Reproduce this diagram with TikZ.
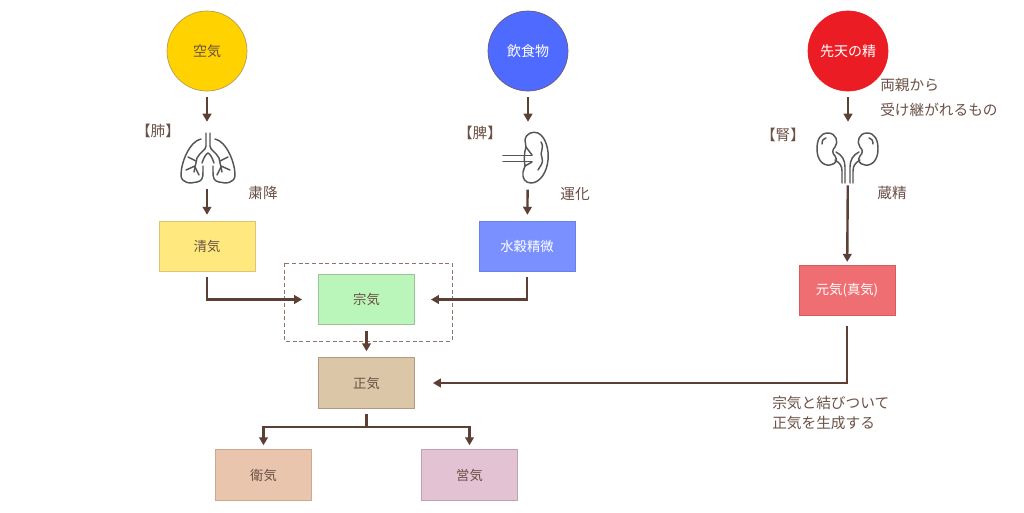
\documentclass[tikz,border=0pt]{standalone}
\usepackage{fontspec}
\newfontfamily\jp{Noto Sans CJK JP}
\usetikzlibrary{arrows.meta}
\definecolor{arrc}{HTML}{5C4036}
\definecolor{txtc}{HTML}{6B5146}
\definecolor{icon}{HTML}{555555}
\definecolor{ylw}{HTML}{FFD200}
\definecolor{ylwb}{HTML}{B89A50}
\definecolor{blu}{HTML}{4F6BFF}
\definecolor{blub}{HTML}{6A5A70}
\definecolor{red1}{HTML}{EC1C24}
\definecolor{redb}{HTML}{B0303A}
\definecolor{seif}{HTML}{FFE97F}
\definecolor{seib}{HTML}{E0C470}
\definecolor{suif}{HTML}{7A90FF}
\definecolor{suib}{HTML}{6680EE}
\definecolor{sof}{HTML}{BAF5BA}
\definecolor{sob}{HTML}{9BC49B}
\definecolor{shof}{HTML}{DCC6A8}
\definecolor{shob}{HTML}{B39A84}
\definecolor{eif}{HTML}{E9C5AD}
\definecolor{eib}{HTML}{CFA88F}
\definecolor{yof}{HTML}{E3C3D3}
\definecolor{yob}{HTML}{C2A0B2}
\definecolor{genf}{HTML}{EE6E72}
\definecolor{genb}{HTML}{D65A60}
\definecolor{dashc}{HTML}{8C7468}
\tikzset{
  circ/.style={circle, minimum size=60pt, inner sep=0pt, line width=0.5pt, font=\jp\fontsize{10.5}{12}\selectfont},
  box/.style={rectangle, minimum width=72pt, minimum height=38pt, inner sep=0pt, line width=0.6pt, font=\jp\fontsize{10}{12}\selectfont},
  iconbox/.style={rectangle, minimum width=42pt, minimum height=37.5pt, inner sep=0pt},
  lbl/.style={inner sep=0pt, text=txtc, font=\jp\fontsize{11}{13}\selectfont},
  arr/.style={draw=arrc, line width=1.8pt, -{Triangle[width=6.5pt,length=6pt]}},
  conn/.style={draw=arrc, line width=1.8pt},
  ic/.style={draw=icon, line width=1.1pt, line cap=round, line join=round},
  frame/.style={draw=dashc, line width=0.7pt, dash pattern=on 3pt off 2pt},
}
\begin{document}
\begin{tikzpicture}[x=0.75pt,y=-0.75pt]
\useasboundingbox[fill=white] (0,0) rectangle (1024,512);

% circles
\node[circ, fill=ylw, draw=ylwb, text=txtc] (kuki) at (207,51) {空気};
\node[circ, fill=blu, draw=blub, text=white] (inshoku) at (528,51) {飲食物};
\node[circ, fill=red1, draw=red1, text=white] (sentan) at (848,51) {先天の精};

% icon placeholders
\node[iconbox] (lung) at (207,158) {};
\node[iconbox] (spleen) at (528,157) {};
\node[iconbox] (kidney) at (848,158) {};

% boxes
\node[box, fill=seif, draw=seib, text=txtc] (seiki) at (207,246.5) {清気};
\node[box, fill=suif, draw=suib, text=white] (suikoku) at (527,246.5) {水穀精微};
\node[box, fill=sof, draw=sob, text=txtc] (soki) at (366.5,299.5) {宗気};
\node[box, fill=shof, draw=shob, text=txtc] (shoki) at (366.5,383) {正気};
\node[box, fill=eif, draw=eib, text=txtc] (eki) at (263.5,475) {衛気};
\node[box, fill=yof, draw=yob, text=txtc] (eiki) at (469.5,475) {営気};
\node[box, fill=genf, draw=genb, text=white] (genki) at (847,290.5) {元気(真気)};

% dashed frame
\draw[frame] (284,263) rectangle (452,341);

% labels
\node[lbl] (hai) at (158,131) {【肺】};
\node[lbl] (hi) at (480,133) {【脾】};
\node[lbl] (jin) at (783,135) {【腎】};
\node[lbl] (shuku) at (263,193) {粛降};
\node[lbl] (unka) at (575,194) {運化};
\node[lbl] (zosei) at (892,193) {蔵精};
\node[lbl, anchor=west, align=left, font=\jp\fontsize{11}{18.75}\selectfont] (ryoshin) at (880,97.5) {両親から\\受け継がれるもの};
\node[lbl, anchor=west, align=left, font=\jp\fontsize{11}{15}\selectfont] (musubi) at (772,413) {宗気と結びついて\\正気を生成する};

% connectors
\draw[arr, shorten <=4.5pt, shorten >=8.25pt] (kuki) -- (lung);
\draw[arr, shorten <=4pt, shorten >=4.5pt] (lung) -- (seiki);
\draw[arr, shorten <=4.5pt, shorten >=7.5pt] (inshoku) -- (spleen);
\draw[arr, shorten <=5.5pt, shorten >=4.5pt] (spleen) -- (suikoku);
\draw[arr, shorten <=4.5pt, shorten >=8.25pt] (sentan) -- (kidney);
\draw[arr, shorten <=1.5pt, shorten >=2.2pt] (kidney) -- (genki);
\draw[arr, shorten <=3.75pt, shorten >=12pt] (seiki.south) |- (soki.west);
\draw[arr, shorten <=3.75pt, shorten >=12pt] (suikoku.south) |- (soki.east);
\draw[arr, shorten <=4.5pt, shorten >=4.5pt] (soki) -- (shoki);
\draw[arr, shorten <=7.5pt, shorten >=13.5pt] (genki.south) |- (shoki.east);
\coordinate (br) at (366.5,427);
\draw[conn, shorten <=3.75pt] (shoki.south) -- (br);
\draw[arr, shorten >=3pt] (br) -| (eki.north);
\draw[arr, shorten >=3pt] (br) -| (eiki.north);

% lungs icon
\draw[ic] (201,139) .. controls (190,141) and (181,162) .. (181,175) .. controls (181,183) and (190,184) .. (197,182) .. controls (202,181) and (203,178) .. (203,172) -- (203,166);
\draw[ic] (215,139) .. controls (226,141) and (235,162) .. (235,175) .. controls (235,183) and (226,184) .. (219,182) .. controls (214,181) and (213,178) .. (213,172) -- (213,166);
\draw[ic] (206,133) -- (206,146) .. controls (206,150) and (200,152) .. (197,158) -- (194,172);
\draw[ic] (210,133) -- (210,146) .. controls (210,150) and (216,152) .. (219,158) -- (222,172);
\draw[ic] (202,163) .. controls (204,157) and (206,154) .. (208,153) .. controls (210,154) and (212,157) .. (214,163);
\draw[ic] (196,161) -- (188,157);
\draw[ic] (195,166) -- (186,170);
\draw[ic] (195,167) -- (199,175);
\draw[ic] (220,161) -- (228,157);
\draw[ic] (221,166) -- (230,170);
\draw[ic] (221,167) -- (217,175);

% spleen icon
\draw[ic] (526,147) -- (525,140) .. controls (526,133) and (533,131) .. (538,133) .. controls (546,137) and (549,150) .. (548,160) .. controls (547,172) and (540,183) .. (531,183) .. controls (525,183) and (522,178) .. (523,172) -- (525,166);
\draw[ic] (526,147) -- (532,155);
\draw[ic] (525,166) -- (532,162);
\draw[ic] (526,147) .. controls (524,153) and (524,160) .. (525,166);
\draw[ic] (503,155.5) -- (532,155.5);
\draw[ic] (503,161.5) -- (532,161.5);
\draw[ic] (541,142) .. controls (545,148) and (539,152) .. (542,158) .. controls (544,163) and (540,166) .. (538,170);

% kidneys icon
\draw[ic] (828,133) .. controls (820,133) and (817,140) .. (817,149) .. controls (817,160) and (823,166) .. (830,165) .. controls (836,164) and (838,160) .. (835,156) .. controls (832,153) and (832,150) .. (835,147) .. controls (839,142) and (836,133) .. (828,133) -- cycle;
\draw[ic] (822,144) .. controls (822,140) and (824,138) .. (826,138);
\draw[ic] (836,152) .. controls (842,155) and (845,160) .. (845,167) -- (845,183);
\draw[ic] (835,160) .. controls (840,163) and (842,166) .. (842,171) -- (842,183);
\draw[ic] (867,133) .. controls (875,133) and (878,140) .. (878,149) .. controls (878,160) and (872,166) .. (865,165) .. controls (859,164) and (857,160) .. (860,156) .. controls (863,153) and (863,150) .. (860,147) .. controls (856,142) and (859,133) .. (867,133) -- cycle;
\draw[ic] (873,144) .. controls (873,140) and (871,138) .. (869,138);
\draw[ic] (859,152) .. controls (853,155) and (850,160) .. (850,167) -- (850,183);
\draw[ic] (860,160) .. controls (855,163) and (853,166) .. (853,171) -- (853,183);
\end{tikzpicture}
\end{document}
